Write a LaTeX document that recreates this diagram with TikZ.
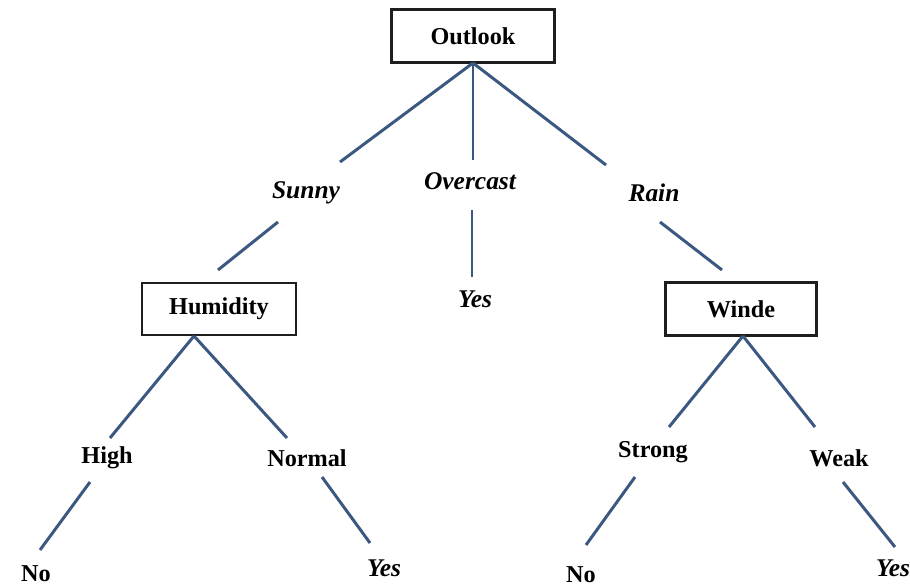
\documentclass[tikz,border=0pt]{standalone}
\usepackage{fontspec}
\setmainfont{Liberation Serif}
\usetikzlibrary{calc}
\definecolor{edgeblue}{RGB}{58,88,128}
\definecolor{boxline}{RGB}{30,30,30}
\tikzset{
  attr/.style={draw=boxline, line width=1.3pt, fill=white, inner sep=0pt, font=\fontsize{13.8}{16}\selectfont\bfseries},
  vlab/.style={inner sep=1pt, font=\fontsize{14.5}{17}\selectfont\bfseries\itshape},
  blab/.style={inner sep=1pt, font=\fontsize{13.8}{16}\selectfont\bfseries},
  edge/.style={draw=edgeblue, line width=1.7pt}
}
\begin{document}
\begin{tikzpicture}[x=0.02cm, y=-0.02cm]
\useasboundingbox (0,0) rectangle (910,588);
% boxes
\node[attr, minimum width=3.26cm, minimum height=1.06cm] (outlook) at (473,36) {Outlook};
\node[attr, minimum width=3.08cm, minimum height=1.04cm] (humidity) at (219,309) {Humidity};
\node[attr, minimum width=3.02cm, minimum height=1.06cm] (winde) at (741,309) {Winde};
% value labels
\node[vlab] (sunny) at (306,193) {Sunny};
\node[vlab] (overcast) at (470,181) {Overcast};
\node[vlab] (rain) at (654,193) {Rain};
\node[vlab] (yesv) at (475,299) {Yes};
\node[blab] (high) at (107,458) {High};
\node[blab] (normal) at (307,458) {Normal};
\node[blab] (strong) at (653,452) {Strong};
\node[blab] (weak) at (839,458) {Weak};
\node[blab] (noa) at (36,574) {No};
\node[vlab] (yesb) at (384,568) {Yes};
\node[blab] (noc) at (581,575) {No};
\node[vlab] (yesd) at (893,568) {Yes};
% connectors
\draw[edge] ($(outlook)+(0,27)$) -- ($(sunny)+(34,-31)$);
\draw[edge] ($(outlook)+(0,27)$) -- ($(overcast)+(3,-21)$);
\draw[edge] ($(outlook)+(0,27)$) -- ($(rain)+(-48,-28)$);
\draw[edge] ($(sunny)+(-28,29)$) -- ($(humidity)+(-1,-39)$);
\draw[edge] ($(overcast)+(2,29)$) -- ($(yesv)+(-3,-22)$);
\draw[edge] ($(rain)+(6,29)$) -- ($(winde)+(-19,-39)$);
\draw[edge] ($(humidity)+(-25,27)$) -- ($(high)+(3,-20)$);
\draw[edge] ($(humidity)+(-25,27)$) -- ($(normal)+(-20,-20)$);
\draw[edge] ($(high)+(-17,24)$) -- ($(noa)+(4,-24)$);
\draw[edge] ($(normal)+(15,19)$) -- ($(yesb)+(-14,-25)$);
\draw[edge] ($(winde)+(2,27)$) -- ($(strong)+(16,-25)$);
\draw[edge] ($(winde)+(2,27)$) -- ($(weak)+(-24,-31)$);
\draw[edge] ($(strong)+(-18,25)$) -- ($(noc)+(5,-30)$);
\draw[edge] ($(weak)+(4,24)$) -- ($(yesd)+(2,-21)$);
\end{tikzpicture}
\end{document}
